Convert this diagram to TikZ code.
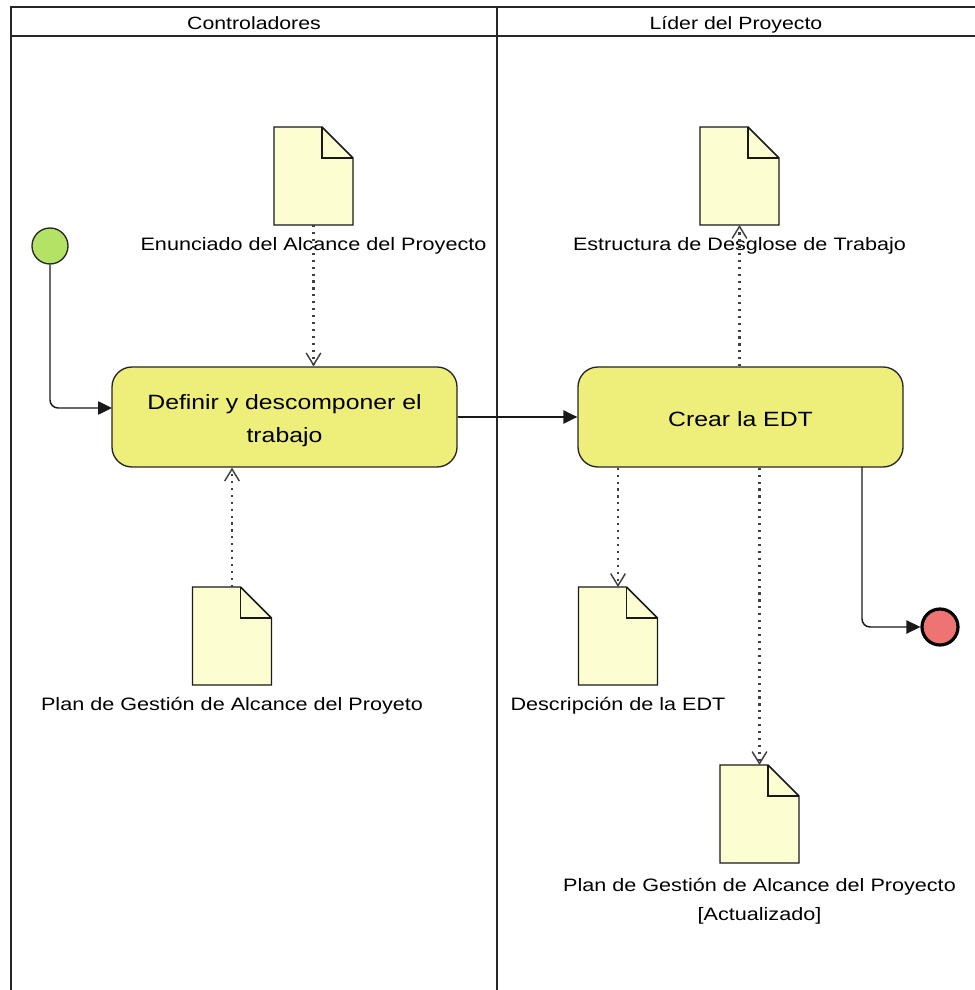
\documentclass[tikz,border=0pt]{standalone}
\usepackage{fontspec}
\setmainfont{Liberation Sans}[FakeStretch=1.2]
\usetikzlibrary{positioning,arrows.meta}

\definecolor{startgreen}{HTML}{B4E264}
\definecolor{actyellow}{HTML}{EEEE7A}
\definecolor{docyellow}{HTML}{FDFDD2}
\definecolor{endred}{HTML}{EE7474}

\tikzset{
  lane/.style={draw=black!85, line width=1.1pt},
  lanehead/.style={inner sep=0pt, anchor=base, font=\fontsize{13.3}{16}\selectfont},
  startev/.style={circle, draw=black!85, fill=startgreen, line width=1pt, minimum size=27pt, inner sep=0pt},
  endev/.style={circle, draw=black, fill=endred, line width=2.4pt, minimum size=27pt, inner sep=0pt},
  activity/.style={draw=black!85, fill=actyellow, rounded corners=15pt, line width=1pt, inner sep=0pt,
    align=center, font=\fontsize{15.5}{24.75}\selectfont},
  docnode/.style={minimum width=59.25pt, minimum height=73.5pt, inner sep=0pt, outer sep=0pt},
  docline/.style={draw=black!90, fill=docyellow, line width=1.1pt, line join=miter},
  doclabel/.style={inner sep=0pt, align=center, font=\fontsize{13.5}{21.75}\selectfont},
  flow/.style={draw=black!90, line width=1.1pt, rounded corners=6pt, -{Triangle[length=10.5pt,width=10pt]}},
  assoc/.style={draw=black!75, line width=1.9pt, dash pattern=on 1.6pt off 3.6pt,
    -{Straight Barb[length=9pt,width=11pt,line width=1.1pt]}},
}

\begin{document}
\begin{tikzpicture}[x=0.75pt, y=0.75pt]
\useasboundingbox (0,0) rectangle (975,990);

% swimlanes
\draw[lane] (975,983) -- (11,983) -- (11,0);
\draw[lane] (11,954) -- (975,954);
\draw[lane] (497,983) -- (497,0);
\node[lanehead] (headCtrl) at (254,960) {Controladores};
\node[lanehead] (headLider) at (736,960) {Líder del Proyecto};

% events and activities
\node[startev] (start) at (50,744) {};
\node[endev] (end) at (940,363) {};
\node[activity, minimum width=258.75pt, minimum height=75pt] (act1) at (284.5,573)
  {\rule{0pt}{16pt}Definir y descomponer el\\trabajo};
\node[activity, minimum width=243.75pt, minimum height=75pt] (act2) at (740.5,573)
  {\rule{0pt}{14pt}Crear la EDT};
\coordinate (in1) at (112,582);
\coordinate (out2) at (862,523);

% documents
\foreach \n/\x/\y in {docA/313.5/814, docB/232/354, docC/739.5/814, docD/618/354, docE/759.5/176} {
  \node[docnode] (\n) at (\x,\y) {};
  \draw[docline] (\x-39.5,\y-49) -- (\x-39.5,\y+49) -- (\x+8.5,\y+49) -- (\x+39.5,\y+18)
    -- (\x+39.5,\y-49) -- cycle;
  \draw[docline, fill=none] (\x+8.5,\y+49) |- (\x+39.5,\y+18);
}
\node[doclabel, below=9pt of docA] (lblA) {Enunciado del Alcance del Proyecto};
\node[doclabel, below=9pt of docB] (lblB) {Plan de Gestión de Alcance del Proyeto};
\node[doclabel, below=9pt of docC] (lblC) {Estructura de Desglose de Trabajo};
\node[doclabel, below=9pt of docD] (lblD) {Descripción de la EDT};
\node[doclabel, below=11.5pt of docE] (lblE) {Plan de Gestión de Alcance del Proyecto\\{[Actualizado]}};

% control flow
\draw[flow] (start) |- (in1);
\draw[flow] (act1.east) -- (act2.west);
\draw[flow] (out2) |- (end);

% data associations
\draw[assoc] (docA.south) -- (docA.south |- act1.north);
\draw[assoc] (docB.north) -- (docB.north |- act1.south);
\draw[assoc] (act2.north -| docC.south) -- (docC.south);
\draw[assoc] (act2.south -| docD.north) -- (docD.north);
\draw[assoc] (act2.south -| docE.north) -- (docE.north);
\end{tikzpicture}
\end{document}
